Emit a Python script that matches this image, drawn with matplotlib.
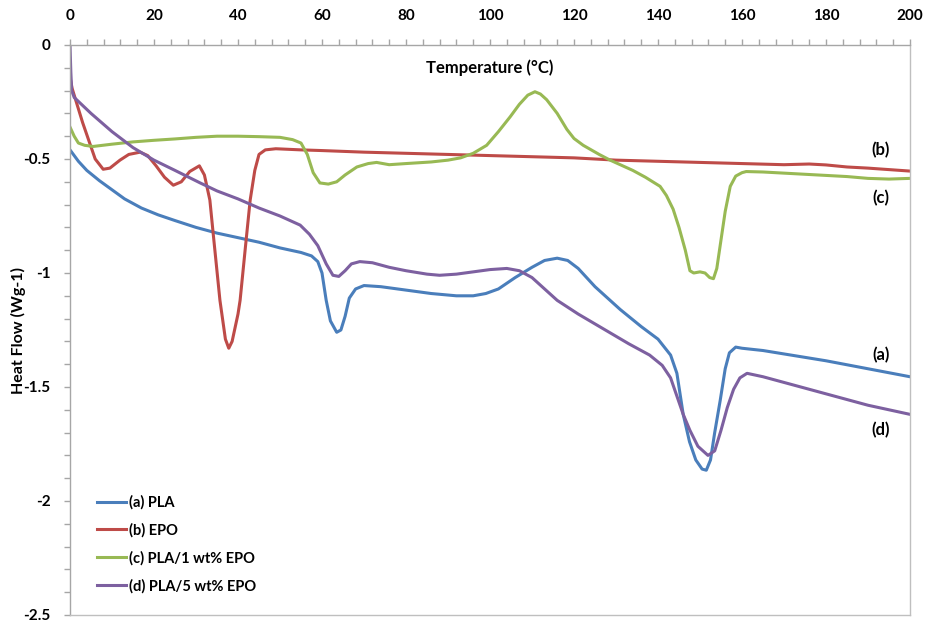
import matplotlib
matplotlib.use("Agg")
import matplotlib.pyplot as plt
from matplotlib.ticker import MultipleLocator

plt.rcParams['font.family'] = ['Lato', 'DejaVu Sans']

# DSC traces, temperature (°C) vs heat flow (W/g)
t_pla = [0, 2, 4, 7, 10, 13, 17, 21, 25, 30, 35, 40, 45, 50, 55, 57.5, 59, 60, 61, 62, 63.5,
         64.5, 65.5, 66.5, 68, 70, 74, 80, 86, 92, 96, 99, 102, 106, 110, 113, 116, 118.5, 121,
         125, 128, 131, 136, 140, 143, 144.5, 146, 147.5, 149, 150.5, 151.5, 152.5, 153.5, 154.8,
         156, 157, 158.5, 160, 165, 170, 180, 190, 200]
hf_pla = [-0.46, -0.51, -0.55, -0.595, -0.635, -0.675, -0.715, -0.745, -0.77, -0.80, -0.825,
          -0.845, -0.865, -0.89, -0.91, -0.925, -0.95, -1.0, -1.12, -1.21, -1.26, -1.25, -1.19,
          -1.11, -1.07, -1.055, -1.06, -1.075, -1.09, -1.10, -1.10, -1.09, -1.07, -1.02, -0.975,
          -0.945, -0.935, -0.945, -0.98, -1.06, -1.11, -1.16, -1.235, -1.29, -1.36, -1.44, -1.62,
          -1.74, -1.82, -1.86, -1.865, -1.82, -1.70, -1.56, -1.42, -1.35, -1.325, -1.33, -1.34,
          -1.355, -1.385, -1.42, -1.455]

t_epo = [0, 0.5, 1.5, 3, 4.5, 6, 7.9, 9.5, 11.9, 14, 16.7, 18.5, 20.5, 22.5, 24.6, 26.5, 28.5,
         30.8, 32, 33.3, 34, 35.7, 37, 37.8, 38.6, 40, 40.5, 41.8, 42.9, 44, 45, 46.5, 49, 55, 60,
         70, 80, 90, 100, 110, 120, 130, 140, 150, 160, 170, 176, 180, 185, 190, 200]
hf_epo = [-0.14, -0.19, -0.25, -0.34, -0.42, -0.50, -0.545, -0.54, -0.505, -0.48, -0.47, -0.485,
          -0.53, -0.58, -0.615, -0.60, -0.555, -0.53, -0.57, -0.68, -0.81, -1.12, -1.29, -1.33,
          -1.30, -1.18, -1.12, -0.88, -0.68, -0.55, -0.48, -0.46, -0.455, -0.46, -0.463, -0.47,
          -0.475, -0.48, -0.485, -0.49, -0.495, -0.505, -0.51, -0.515, -0.52, -0.525, -0.522,
          -0.526, -0.535, -0.54, -0.553]

t_pla1 = [0, 1, 2, 3.5, 5.5, 10, 15, 20, 25, 30, 35, 40, 45, 50, 53, 55, 56.5, 57.9, 59.5, 61.5,
          63.5, 65.5, 68.3, 71, 73, 76, 80, 86, 90, 93, 96, 99.2, 102, 104.8, 107, 109, 110.7, 112,
          113.5, 116, 118.3, 120, 122.2, 126, 128.6, 131, 134, 137, 140.5, 142, 143.6, 145, 146.5,
          147.6, 148.5, 150, 151.2, 152.3, 153.2, 154, 154.8, 156, 157.2, 158.5, 160, 161, 165,
          170, 175, 180, 185, 190, 195, 200]
hf_pla1 = [-0.36, -0.40, -0.43, -0.44, -0.445, -0.435, -0.425, -0.418, -0.412, -0.405, -0.40,
           -0.40, -0.402, -0.405, -0.415, -0.43, -0.48, -0.56, -0.605, -0.61, -0.60, -0.57,
           -0.535, -0.52, -0.515, -0.525, -0.52, -0.513, -0.505, -0.495, -0.475, -0.44, -0.38,
           -0.315, -0.26, -0.22, -0.205, -0.215, -0.24, -0.30, -0.37, -0.41, -0.44, -0.48,
           -0.505, -0.525, -0.55, -0.58, -0.62, -0.66, -0.72, -0.80, -0.90, -0.99, -1.0, -0.995,
           -1.0, -1.02, -1.025, -0.98, -0.88, -0.73, -0.62, -0.575, -0.56, -0.555, -0.557, -0.562,
           -0.567, -0.572, -0.577, -0.585, -0.588, -0.585]

t_pla5 = [0, 0.2, 0.4, 1, 5, 10, 15, 20, 25, 31, 35, 40, 45, 50, 54.8, 57, 59, 61, 62.6, 64,
          65.5, 67, 69, 72, 76, 80, 85, 88, 92, 96, 100, 104, 107, 110, 113, 116, 121, 127, 133,
          138, 141, 143, 144.5, 146, 147.6, 149.5, 151.9, 153.5, 155, 156.5, 158, 159.5, 161.2,
          165, 170, 175, 180, 185, 190, 195, 200]
hf_pla5 = [0.0, -0.12, -0.2, -0.23, -0.30, -0.38, -0.45, -0.505, -0.55, -0.605, -0.64, -0.675,
           -0.715, -0.75, -0.79, -0.83, -0.88, -0.96, -1.01, -1.015, -0.99, -0.96, -0.95, -0.955,
           -0.975, -0.99, -1.005, -1.01, -1.005, -0.995, -0.985, -0.98, -0.99, -1.02, -1.07,
           -1.12, -1.18, -1.245, -1.31, -1.36, -1.405, -1.46, -1.54, -1.62, -1.69, -1.76, -1.80,
           -1.78, -1.69, -1.59, -1.51, -1.46, -1.44, -1.455, -1.48, -1.505, -1.53, -1.555, -1.58,
           -1.60, -1.62]

series_names = ['(a) PLA', '(b) EPO', '(c) PLA/1 wt% EPO', '(d) PLA/5 wt% EPO']
colors = ['#4A7EBB', '#BE4B48', '#98B954', '#7D60A0']

fig = plt.figure(figsize=(9.25, 6.23), dpi=100)
ax = fig.add_axes([70 / 925, 1 - 615 / 623, 840 / 925, 570 / 623])

ax.plot(t_pla, hf_pla, color=colors[0], lw=2.2, label=series_names[0])
ax.plot(t_epo, hf_epo, color=colors[1], lw=2.2, label=series_names[1])
ax.plot(t_pla1, hf_pla1, color=colors[2], lw=2.2, label=series_names[2])
ax.plot(t_pla5, hf_pla5, color=colors[3], lw=2.2, label=series_names[3])

ax.set_xlim(0, 200)
ax.set_ylim(-2.5, 0)

# x axis sits on top (y = 0), Excel style
ax.xaxis.tick_top()
ax.xaxis.set_major_locator(MultipleLocator(20))
ax.xaxis.set_minor_locator(MultipleLocator(4))
ax.yaxis.set_major_locator(MultipleLocator(0.5))
ax.yaxis.set_minor_locator(MultipleLocator(0.1))
ax.yaxis.set_major_formatter(plt.FuncFormatter(lambda v, p: '0' if v == 0 else f'{v:g}'))

ax.tick_params(axis='both', which='both', direction='out', color='#A6A6A6',
               length=4, width=1)
ax.tick_params(axis='x', which='major', pad=12, labelsize=11)
ax.tick_params(axis='y', which='major', pad=10, labelsize=11)
for lab in ax.get_xticklabels() + ax.get_yticklabels():
    lab.set_fontweight('bold')

for sp in ax.spines.values():
    sp.set_color('#BFBFBF')
    sp.set_linewidth(1)
ax.spines['top'].set_color('#A6A6A6')
ax.spines['left'].set_color('#A6A6A6')

ax.text(0.5, 0.96, 'Temperature (°C)', transform=ax.transAxes, ha='center', va='center',
        fontsize=12, fontweight='bold')
ax.set_ylabel('Heat Flow (Wg-1)', fontsize=11.5, fontweight='bold')
ax.yaxis.set_label_coords(-44 / 840, 0.5)

# curve tags at the right end
ax.text(193, -0.46, '(b)', fontsize=12, fontweight='bold', ha='center', va='center')
ax.text(193, -0.67, '(c)', fontsize=12, fontweight='bold', ha='center', va='center')
ax.text(193, -1.36, '(a)', fontsize=12, fontweight='bold', ha='center', va='center')
ax.text(193, -1.69, '(d)', fontsize=12, fontweight='bold', ha='center', va='center')

ax.legend(loc='lower left', bbox_to_anchor=(0.016, 0.015), frameon=False,
          prop={'weight': 'bold', 'size': 10.5}, handlelength=2.0, handletextpad=0.2,
          labelspacing=0.92)

fig.savefig('out.png', dpi=100)
